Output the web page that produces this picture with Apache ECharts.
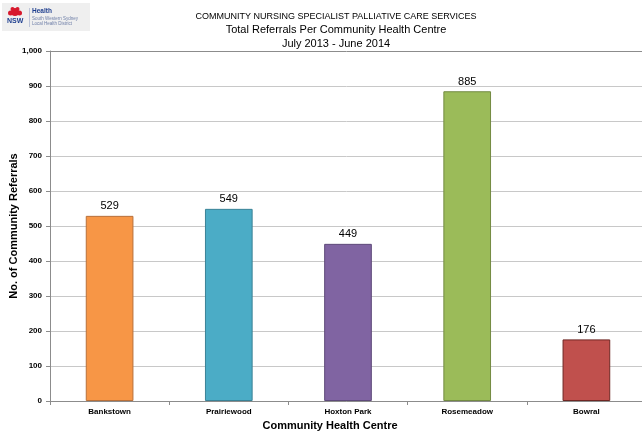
<!DOCTYPE html>
<html>
<head>
<meta charset="utf-8">
<script src="https://cdn.jsdelivr.net/npm/echarts@6/dist/echarts.min.js"></script>
<style>
  html, body { margin: 0; padding: 0; background: #ffffff; }
  #chart { width: 642px; height: 435px; }
</style>
</head>
<body>
<div id="chart"></div>
<script>
// Referral counts per community health centre, July 2013 - June 2014
const centres = ['Bankstown', 'Prairiewood', 'Hoxton Park', 'Rosemeadow', 'Bowral'];
const referrals = [529, 549, 449, 885, 176];
const barColors = ['#F79646', '#4BACC6', '#8064A2', '#9BBB59', '#C0504D'];
const barBorders = ['#B8703A', '#3A8296', '#5E4A7A', '#728A42', '#6E2623'];
const yTicks = [0, 100, 200, 300, 400, 500, 600, 700, 800, 900, 1000];

const chart = echarts.init(document.getElementById('chart'), null, { renderer: 'canvas' });

// grid lines: light grey, the top one darker
const gridColors = yTicks.map(v => (v === 1000 ? '#8c8c8c' : '#c8c8c8'));

const font = 'Liberation Sans, Arial, sans-serif';

const option = {
  backgroundColor: '#ffffff',
  animation: false,
  textStyle: { fontFamily: font },
  title: [
    { text: 'COMMUNITY NURSING SPECIALIST PALLIATIVE CARE SERVICES', left: 331, top: 7, textAlign: 'center',
      textStyle: { fontSize: 9, fontWeight: 'normal', color: '#000', fontFamily: font } },
    { text: 'Total Referrals Per Community Health Centre', left: 331, top: 19, textAlign: 'center',
      textStyle: { fontSize: 11, fontWeight: 'normal', color: '#000', fontFamily: font } },
    { text: 'July 2013 - June 2014', left: 331, top: 33, textAlign: 'center',
      textStyle: { fontSize: 11, fontWeight: 'normal', color: '#000', fontFamily: font } }
  ],
  graphic: [
    { type: 'rect', shape: { x: 2, y: 3, width: 88, height: 28 }, style: { fill: '#efefef' } },
    // waratah emblem
    { type: 'group', left: 8, top: 7, children: [
      { type: 'circle', shape: { cx: 7, cy: 5, r: 4 }, style: { fill: '#d7192d' } },
      { type: 'circle', shape: { cx: 2.5, cy: 6, r: 2.5 }, style: { fill: '#d7192d' } },
      { type: 'circle', shape: { cx: 11.5, cy: 6, r: 2.5 }, style: { fill: '#d7192d' } },
      { type: 'circle', shape: { cx: 4.5, cy: 2, r: 2 }, style: { fill: '#d7192d' } },
      { type: 'circle', shape: { cx: 9.5, cy: 2, r: 2 }, style: { fill: '#d7192d' } }
    ] },
    { type: 'text', left: 7, top: 18, style: { text: 'NSW', fontSize: 7, fontWeight: 'bold', fill: '#1f3f8f', fontFamily: font } },
    { type: 'rect', shape: { x: 29, y: 8, width: 0.6, height: 19 }, style: { fill: '#9aa6c8' } },
    { type: 'text', left: 32, top: 8, style: { text: 'Health', fontSize: 6.5, fontWeight: 'bold', fill: '#1f3f8f', fontFamily: font } },
    { type: 'text', left: 32, top: 16, style: { text: 'South Western Sydney\nLocal Health District', fontSize: 4.5, lineHeight: 5, fill: '#6f7fa8', fontFamily: font } },
    // axis titles
    { type: 'text', x: 330, y: 420, style: { text: 'Community Health Centre', textAlign: 'center', fontSize: 11, fontWeight: 'bold', fill: '#000', fontFamily: font } },
    { type: 'text', x: 14, y: 226, rotation: Math.PI / 2,
      style: { text: 'No. of Community Referrals', textAlign: 'center', textVerticalAlign: 'middle', fontSize: 11, fontWeight: 'bold', fill: '#000', fontFamily: font } }
  ],
  grid: { left: 50, right: -4, top: 51, bottom: 34, containLabel: false, outerBoundsMode: 'none' },
  xAxis: {
    type: 'category',
    data: centres,
    axisLine: { lineStyle: { color: '#8c8c8c', width: 1 } },
    axisTick: { show: true, alignWithLabel: false, length: 4, lineStyle: { color: '#8c8c8c' } },
    axisLabel: { fontSize: 8, fontWeight: 'bold', color: '#000', margin: 7, fontFamily: font }
  },
  yAxis: {
    type: 'value',
    min: 0,
    max: 1000,
    interval: 100,
    axisLine: { show: true, lineStyle: { color: '#8c8c8c', width: 1 } },
    axisTick: { show: true, length: 4, lineStyle: { color: '#8c8c8c' } },
    axisLabel: {
      fontSize: 8, fontWeight: 'bold', color: '#000', margin: 8, fontFamily: font,
      formatter: v => v.toLocaleString('en-US')
    },
    splitLine: { show: true, lineStyle: { color: gridColors, width: 1 } }
  },
  series: [{
    type: 'bar',
    data: referrals.map((v, i) => ({
      value: v,
      itemStyle: { color: barColors[i], borderColor: barBorders[i], borderWidth: 1 }
    })),
    barWidth: '40%',
    label: {
      show: true, position: 'top', distance: 4,
      fontSize: 11, color: '#000', fontFamily: font
    }
  }]
};

chart.setOption(option);
</script>
</body>
</html>
